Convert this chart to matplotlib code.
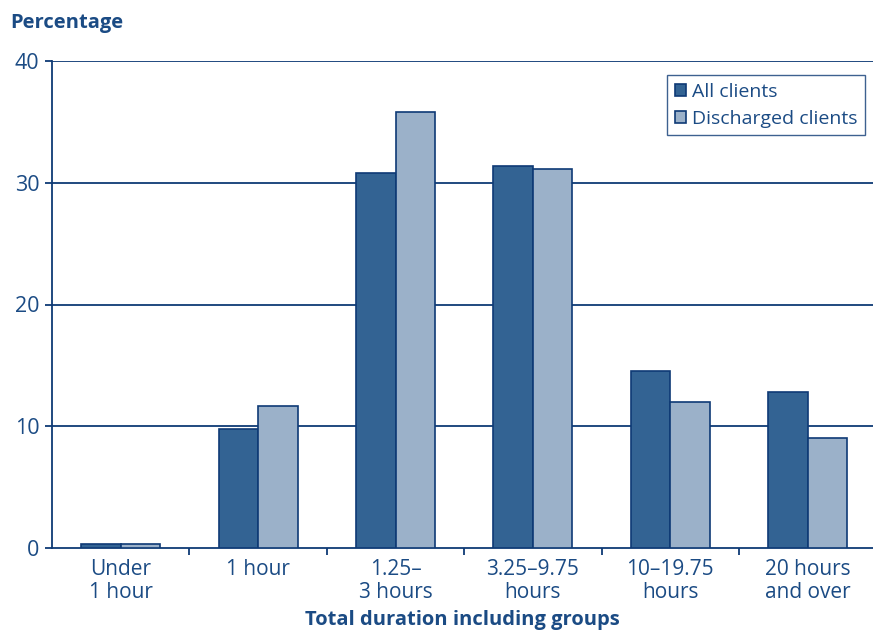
import matplotlib
matplotlib.use("Agg")
import matplotlib.pyplot as plt
import numpy as np

categories = ["Under\n1 hour", "1 hour", "1.25–\n3 hours", "3.25–9.75\nhours",
              "10–19.75\nhours", "20 hours\nand over"]
all_clients = [0.3, 9.8, 30.8, 31.4, 14.5, 12.8]
discharged_clients = [0.3, 11.7, 35.8, 31.1, 12.0, 9.0]
y_ticks = [0, 10, 20, 30, 40]

NAVY = "#0E3A75"
TEXT = "#1B4B84"
DARK = "#336393"
LIGHT = "#9BB1C9"

plt.rcParams["font.family"] = ["Open Sans", "DejaVu Sans"]

fig = plt.figure(figsize=(8.73, 6.36), dpi=100)
ax = fig.add_axes([52 / 873, 1 - 548 / 636, 821 / 873, (548 - 61) / 636])

x = np.arange(len(categories))
w = 0.288
ax.bar(x - w / 2, all_clients, w, color=DARK, edgecolor=NAVY, linewidth=1.2,
       label="All clients", zorder=3)
ax.bar(x + w / 2, discharged_clients, w, color=LIGHT, edgecolor=NAVY, linewidth=1.2,
       label="Discharged clients", zorder=3)

ax.set_xlim(-0.5, 5.475)
ax.set_ylim(0, 40)
ax.set_yticks(y_ticks)
ax.set_yticklabels([str(t) for t in y_ticks], fontsize=15.5, color=TEXT)
for t in y_ticks[1:]:
    ax.axhline(t, color=NAVY, linewidth=1.3, zorder=1)

ax.set_xticks(x)
ax.set_xticklabels(categories, fontsize=15, color=TEXT, linespacing=1.1)
ax.set_xticks(np.arange(0.5, 5.0, 1.0), minor=True)
ax.tick_params(axis="x", which="major", length=0, pad=8)
ax.tick_params(axis="x", which="minor", length=5, width=1.3, color=NAVY, direction="out")
ax.tick_params(axis="y", length=5, width=1.3, color=NAVY, pad=4)

for side in ["top", "right"]:
    ax.spines[side].set_visible(False)
for side in ["left", "bottom"]:
    ax.spines[side].set_color(NAVY)
    ax.spines[side].set_linewidth(1.3)

ax.set_xlabel("Total duration including groups", fontsize=14.5, fontweight="bold",
              color=TEXT, labelpad=5)
fig.text(10 / 873, 1 - 23 / 636, "Percentage", fontsize=14.5, fontweight="bold",
         color=TEXT, ha="left", va="center")

leg = ax.legend(loc="upper right", bbox_to_anchor=(1 - 8 / 821, 1 - 14 / 487),
                fontsize=14, frameon=True, fancybox=False, handlelength=0.55,
                handleheight=0.55, handletextpad=0.3, borderpad=0.4, labelspacing=0.45,
                labelcolor=TEXT, borderaxespad=0)
leg.get_frame().set_edgecolor(NAVY)
leg.get_frame().set_linewidth(1.0)

fig.savefig("out.png", dpi=100)
